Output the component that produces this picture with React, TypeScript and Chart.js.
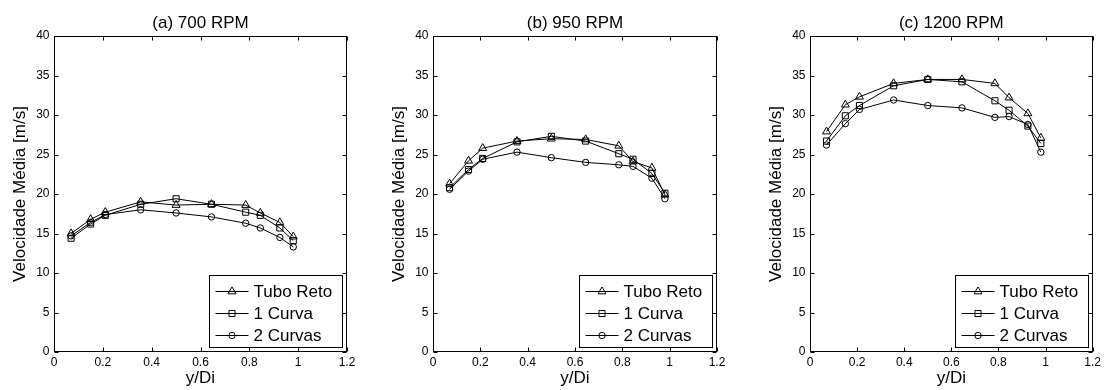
import React, { useEffect, useRef } from 'react';
import { Chart, registerables } from 'chart.js';

Chart.register(...registerables);

const FONT = "'Liberation Sans', Arial, Helvetica, sans-serif";

// ---- data ----
const positions = [0.07, 0.15, 0.21, 0.355, 0.5, 0.645, 0.785, 0.845, 0.925, 0.98];
const seriesNames = ['Tubo Reto', '1 Curva', '2 Curvas'];
const panelTitles = ['(a) 700 RPM', '(b) 950 RPM', '(c) 1200 RPM'];

const tuboReto700 = [15.0, 16.8, 17.7, 19.0, 18.6, 18.7, 18.6, 17.6, 16.4, 14.6];
const umaCurva700 = [14.4, 16.2, 17.3, 18.7, 19.4, 18.7, 17.7, 17.3, 15.7, 14.1];
const duasCurvas700 = [14.7, 16.4, 17.4, 18.0, 17.6, 17.1, 16.3, 15.7, 14.5, 13.3];

const tuboReto950 = [21.3, 24.2, 25.8, 26.7, 27.0, 26.9, 26.1, 24.1, 23.3, 19.9];
const umaCurva950 = [20.8, 23.1, 24.5, 26.6, 27.3, 26.7, 25.1, 24.4, 22.6, 20.1];
const duasCurvas950 = [20.6, 22.9, 24.4, 25.3, 24.6, 24.0, 23.7, 23.5, 22.0, 19.4];

const tuboReto1200 = [27.9, 31.3, 32.3, 34.0, 34.5, 34.5, 34.0, 32.2, 30.2, 27.1];
const umaCurva1200 = [26.7, 29.9, 31.2, 33.7, 34.5, 34.2, 31.8, 30.6, 28.6, 26.4];
const duasCurvas1200 = [26.2, 28.9, 30.7, 31.9, 31.2, 30.9, 29.7, 29.8, 28.8, 25.3];

const xTickValues = [0, 0.2, 0.4, 0.6, 0.8, 1, 1.2];
const xTickLabels = ['0', '0.2', '0.4', '0.6', '0.8', '1', '1.2'];
const yTickValues = [0, 5, 10, 15, 20, 25, 30, 35, 40];
const yTickLabels = ['0', '5', '10', '15', '20', '25', '30', '35', '40'];

const xLabel = 'y/Di';
const yLabel = 'Velocidade Média [m/s]';

const markerStyles = ['triangle', 'rect', 'circle'];
const markerRadii = [4.6, 4.3, 3.2];

const panelSeries = [
  [tuboReto700, umaCurva700, duasCurvas700],
  [tuboReto950, umaCurva950, duasCurvas950],
  [tuboReto1200, umaCurva1200, duasCurvas1200],
];

// layout of each canvas (left, width, right padding)
const panelLayout = [
  { left: 0, width: 360, padRight: 13 },
  { left: 379, width: 351, padRight: 13 },
  { left: 756, width: 348, padRight: 11 },
];

function drawMarker(ctx: CanvasRenderingContext2D, style: string, x: number, y: number, r: number) {
  ctx.beginPath();
  if (style === 'triangle') {
    let rad = 0;
    ctx.moveTo(x + Math.sin(rad) * r, y - Math.cos(rad) * r);
    rad += (2 * Math.PI) / 3;
    ctx.lineTo(x + Math.sin(rad) * r, y - Math.cos(rad) * r);
    rad += (2 * Math.PI) / 3;
    ctx.lineTo(x + Math.sin(rad) * r, y - Math.cos(rad) * r);
    ctx.closePath();
  } else if (style === 'rect') {
    const s = r * Math.SQRT1_2;
    ctx.rect(x - s, y - s, 2 * s, 2 * s);
  } else {
    ctx.arc(x, y, r, 0, Math.PI * 2);
  }
  ctx.stroke();
}

const frameLegendPlugin = {
  id: 'frameLegend',
  afterDraw(chart: any) {
    const { ctx, chartArea: a, scales } = chart;
    const L = Math.round(a.left) + 0.5;
    const R = Math.round(a.right) - 0.5;
    const T = Math.round(a.top) + 0.5;
    const B = Math.round(a.bottom) - 0.5;
    const tl = 4;
    ctx.save();
    ctx.strokeStyle = '#000';
    ctx.lineWidth = 1;
    ctx.strokeRect(L, T, R - L, B - T);
    ctx.beginPath();
    xTickValues.forEach((v) => {
      const px = Math.round(scales.x.getPixelForValue(v)) + 0.5;
      ctx.moveTo(px, B);
      ctx.lineTo(px, B - tl);
      ctx.moveTo(px, T);
      ctx.lineTo(px, T + tl);
    });
    yTickValues.forEach((v) => {
      const py = Math.round(scales.y.getPixelForValue(v)) + 0.5;
      ctx.moveTo(L, py);
      ctx.lineTo(L + tl, py);
      ctx.moveTo(R, py);
      ctx.lineTo(R - tl, py);
    });
    ctx.stroke();

    // legend box
    const w = 133;
    const h = 72;
    const bx = Math.round(a.right - 5 - w) + 0.5;
    const by = Math.round(a.bottom - 5 - h) + 0.5;
    ctx.fillStyle = '#fff';
    ctx.fillRect(bx, by, w, h);
    ctx.strokeRect(bx, by, w, h);
    ctx.font = `17px ${FONT}`;
    ctx.textBaseline = 'middle';
    ctx.textAlign = 'left';
    seriesNames.forEach((name, i) => {
      const yy = Math.round(by + 15 + i * 22) + 0.5;
      ctx.beginPath();
      ctx.moveTo(bx + 6, yy);
      ctx.lineTo(bx + 39, yy);
      ctx.stroke();
      drawMarker(ctx, markerStyles[i], bx + 22.5, yy, markerRadii[i]);
      ctx.fillStyle = '#000';
      ctx.fillText(name, bx + 44, yy + 1);
    });
    ctx.restore();
  },
};

function Panel({ index }: { index: number }) {
  const ref = useRef<HTMLCanvasElement | null>(null);
  const lay = panelLayout[index];
  useEffect(() => {
    if (!ref.current) return;
    const datasets = panelSeries[index].map((vals, i) => ({
      label: seriesNames[i],
      data: positions.map((x, j) => ({ x, y: vals[j] })),
      borderColor: '#000',
      backgroundColor: 'rgba(0,0,0,0)',
      borderWidth: 1,
      pointStyle: markerStyles[i],
      pointRadius: markerRadii[i],
      pointBorderColor: '#000',
      pointBackgroundColor: 'rgba(0,0,0,0)',
      pointBorderWidth: 1,
      showLine: true,
      tension: 0,
      fill: false,
    }));
    const chart = new Chart(ref.current, {
      type: 'line',
      data: { datasets },
      options: {
        animation: false,
        responsive: false,
        maintainAspectRatio: false,
        devicePixelRatio: 1,
        events: [],
        layout: { padding: { left: 0, right: lay.padRight, top: 0, bottom: 0 } },
        plugins: {
          legend: { display: false },
          tooltip: { enabled: false },
          title: {
            display: true,
            text: panelTitles[index],
            color: '#000',
            font: { size: 17, family: FONT, weight: 'normal', lineHeight: 1.2 },
            padding: { top: 13, bottom: 2.6 },
            fullSize: false,
          },
        },
        scales: {
          x: {
            type: 'linear',
            min: 0,
            max: 1.2,
            afterBuildTicks: (s: any) => {
              s.ticks = xTickValues.map((v) => ({ value: v }));
            },
            afterFit: (s: any) => {
              s.height = 38;
            },
            ticks: {
              autoSkip: false,
              maxRotation: 0,
              color: '#000',
              padding: 3,
              font: { size: 12, family: FONT },
              callback: (_v: any, i: number) => xTickLabels[i],
            },
            grid: { display: false, drawTicks: false },
            border: { display: false },
            title: {
              display: true,
              text: xLabel,
              color: '#000',
              font: { size: 17, family: FONT, lineHeight: 1.2 },
              padding: { top: 0, bottom: 1 },
            },
          },
          y: {
            type: 'linear',
            min: 0,
            max: 40,
            afterBuildTicks: (s: any) => {
              s.ticks = yTickValues.map((v) => ({ value: v }));
            },
            afterFit: (s: any) => {
              s.width = 54;
            },
            ticks: {
              autoSkip: false,
              color: '#000',
              padding: 4.5,
              font: { size: 12, family: FONT },
              callback: (_v: any, i: number) => yTickLabels[i],
            },
            grid: { display: false, drawTicks: false },
            border: { display: false },
            title: {
              display: true,
              text: yLabel,
              color: '#000',
              font: { size: 17, family: FONT, lineHeight: 1.2 },
              padding: { top: 10, bottom: 0 },
            },
          },
        },
      } as any,
      plugins: [frameLegendPlugin],
    });
    return () => chart.destroy();
  }, [index]);
  return (
    <canvas
      ref={ref}
      width={lay.width}
      height={390}
      style={{ position: 'absolute', left: lay.left, top: 0, width: lay.width, height: 390 }}
    />
  );
}

export default function App() {
  return (
    <div
      style={{
        position: 'absolute',
        left: 0,
        top: 0,
        width: 1104,
        height: 390,
        background: '#fff',
        overflow: 'hidden',
      }}
    >
      {panelTitles.map((_, i) => (
        <Panel key={i} index={i} />
      ))}
    </div>
  );
}
